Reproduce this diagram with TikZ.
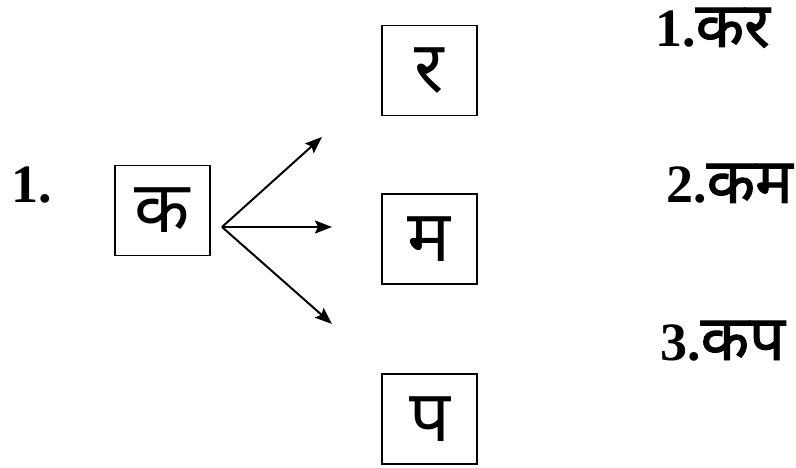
\documentclass[tikz,border=0pt]{standalone}
\usepackage{fontspec}
\setmainfont{Liberation Serif}
\newfontfamily\dev[Script=Devanagari]{Noto Sans}
\newfontfamily\devb[Script=Devanagari,FakeBold=1.5]{Noto Sans}
\usetikzlibrary{arrows.meta}
\tikzset{
  letterbox/.style={draw, line width=1.8pt, minimum width=95pt, minimum height=90pt, inner sep=0pt, font=\dev\fontsize{72}{72}\selectfont},
  arr/.style={line width=2pt, -{Stealth[length=17pt,width=13pt,inset=3pt]}},
  lbl/.style={anchor=base west, inner sep=0pt, font=\bfseries\fontsize{54}{54}\selectfont}
}
\newcommand{\dw}[1]{{\devb\fontsize{63}{63}\selectfont #1}}
\begin{document}
\begin{tikzpicture}[x=1pt,y=-1pt]
\useasboundingbox (0,0) rectangle (796,468);
\node[lbl] (num) at (11,203) {1.};
\node[letterbox] (ka) at (162.5,210.5) {क};
\node[letterbox] (ra) at (429.5,70.5) {र};
\node[letterbox] (ma) at (429.5,239) {म};
\node[letterbox] (pa) at (429.5,419) {प};
\coordinate (o) at (222,227);
\coordinate (t1) at (322,137);
\coordinate (t2) at (332,227);
\coordinate (t3) at (332,324);
\draw[arr] (o) -- (t1);
\draw[arr] (o) -- (t2);
\draw[arr] (o) -- (t3);
\node[lbl] (w1) at (655,47) {1.\dw{कर}};
\node[lbl] (w2) at (666,203) {2.\dw{कम}};
\node[lbl] (w3) at (660,360) {3.\dw{कप}};
\end{tikzpicture}
\end{document}
